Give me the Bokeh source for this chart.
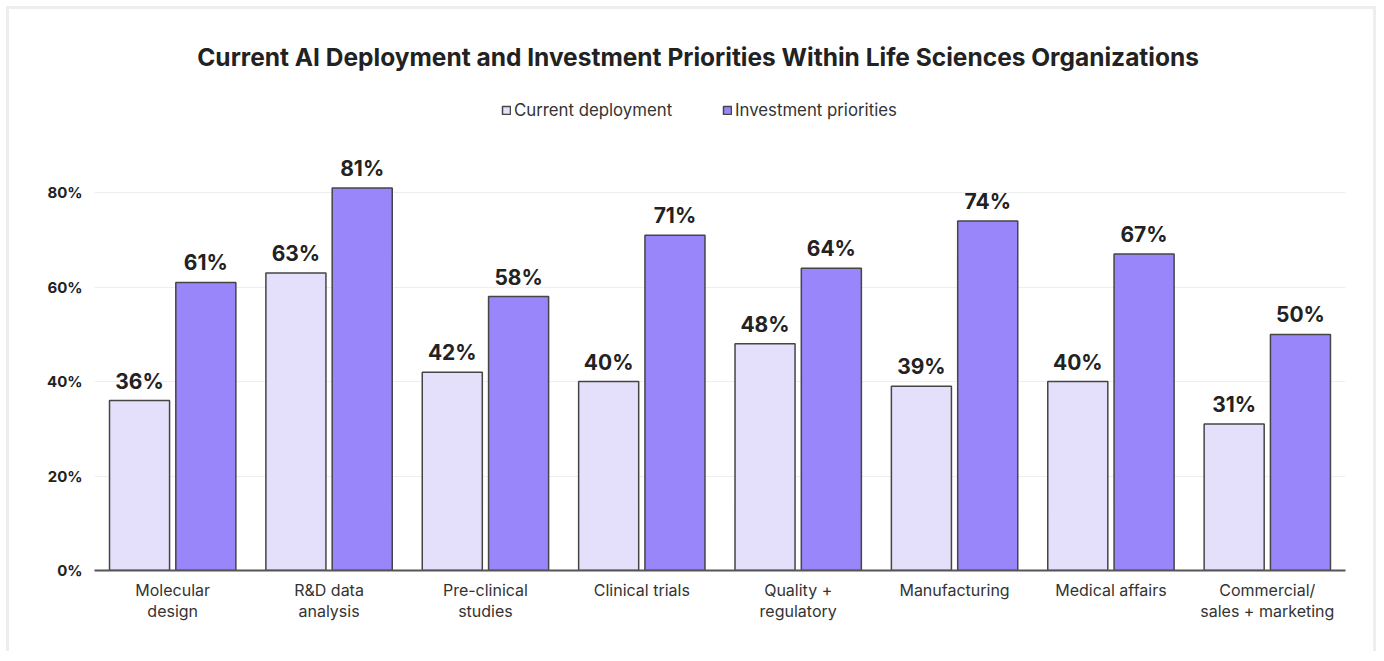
from bokeh.plotting import figure
from bokeh.models import ColumnDataSource, FactorRange, Label, Legend, LegendItem, FixedTicker, LabelSet
from bokeh.transform import dodge
from bokeh.core.properties import value
from bokeh.embed import file_html
from bokeh.resources import INLINE

categories = ["Molecular\ndesign", "R&D data\nanalysis", "Pre-clinical\nstudies", "Clinical trials",
              "Quality +\nregulatory", "Manufacturing", "Medical affairs", "Commercial/\nsales + marketing"]
current = [36, 63, 42, 40, 48, 39, 40, 31]
invest = [61, 81, 58, 71, 64, 74, 67, 50]
y_ticks = [0, 20, 40, 60, 80]

FONT = "Inter"
src = ColumnDataSource(dict(
    cat=categories, cur=current, inv=invest,
    cur_lbl=[f"{v}%" for v in current], inv_lbl=[f"{v}%" for v in invest]))

p = figure(x_range=FactorRange(*categories, range_padding=0), y_range=(0, 118.8),
           width=1370, height=645, output_backend="svg", toolbar_location=None,
           min_border_left=85, min_border_right=34, min_border_top=0, min_border_bottom=84)
p.styles = {"border": "3px solid #eeeeee", "border-bottom": "none", "margin": "6px 0 0 6px"}
p.outline_line_color = None
p.background_fill_color = "white"

bw = 0.384
r1 = p.vbar(x=dodge("cat", -0.212, range=p.x_range), top="cur", width=bw, source=src,
            fill_color="#e4dffa", line_color="#454545", line_width=1.5)
r2 = p.vbar(x=dodge("cat", 0.212, range=p.x_range), top="inv", width=bw, source=src,
            fill_color="#9a86fb", line_color="#454545", line_width=1.5)

for col, lbl, off in (("cur", "cur_lbl", -0.212), ("inv", "inv_lbl", 0.212)):
    ls = LabelSet(x=dodge("cat", off, range=p.x_range), y=col, text=lbl, source=src,
                  text_align="center", text_baseline="bottom", y_offset=7,
                  text_font=value(FONT), text_font_style="bold", text_font_size="21px",
                  text_color="#222222")
    p.add_layout(ls)

title = Label(x=3.86, y=108.8,
              text="Current AI Deployment and Investment Priorities Within Life Sciences Organizations",
              text_align="center", text_baseline="middle", text_font=FONT, text_font_style="bold",
              text_font_size="24.5px", text_color="#222222")
p.add_layout(title)

for r, name, xloc in ((r1, "Current deployment", 502 - 95), (r2, "Investment priorities", 723 - 95)):
    lg = Legend(items=[LegendItem(label=name, renderers=[r])], location=(xloc, 450),
                orientation="horizontal", glyph_width=10, glyph_height=10, label_standoff=3,
                padding=0, margin=0, border_line_alpha=0, background_fill_alpha=0,
                label_text_font=FONT, label_text_font_size="16.8px", label_text_color="#333333")
    p.add_layout(lg)

p.xgrid.grid_line_color = None
p.ygrid.grid_line_color = "#eeeeee"
p.ygrid.ticker = FixedTicker(ticks=y_ticks[1:])
p.yaxis.ticker = FixedTicker(ticks=y_ticks)
p.yaxis.major_label_overrides = {t: f"{t}%" for t in y_ticks}
p.yaxis.axis_line_color = None
p.yaxis.major_tick_line_color = None
p.yaxis.minor_tick_line_color = None
p.yaxis.major_tick_out = 0
p.yaxis.major_label_standoff = 12
p.yaxis.major_label_text_font = FONT
p.yaxis.major_label_text_font_style = "bold"
p.yaxis.major_label_text_font_size = "15px"
p.yaxis.major_label_text_color = "#222222"

p.xaxis.axis_line_color = "#555555"
p.xaxis.axis_line_width = 2
p.xaxis.major_tick_line_color = None
p.xaxis.minor_tick_line_color = None
p.xaxis.major_tick_out = 0
p.xaxis.major_label_standoff = 9
p.xaxis.major_label_text_line_height = 1.05
p.xaxis.major_label_text_font = FONT
p.xaxis.major_label_text_font_size = "16px"
p.xaxis.major_label_text_color = "#333333"

open("out.html", "w").write(file_html(p, INLINE))
